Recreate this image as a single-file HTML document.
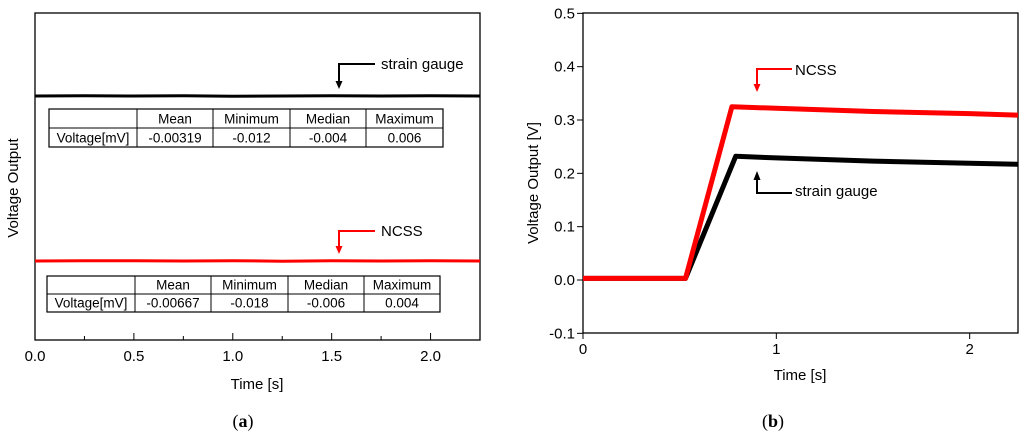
<!DOCTYPE html>
<html><head><meta charset="utf-8"><style>
body{margin:0;background:#fff;}
svg{display:block;font-family:"Liberation Sans",Arial,sans-serif;}
</style></head><body>
<svg id="fig" width="1024" height="437" viewBox="0 0 1024 437">
<g id="pa"></g>
<g id="pb"></g>
</svg>
<script>
// Panel (a) data
const aTicks = [0.0, 0.5, 1.0, 1.5, 2.0];
const aTickLabels = ["0.0", "0.5", "1.0", "1.5", "2.0"];
const aTimes = [0, 0.25, 0.5, 0.75, 1.0, 1.25, 1.5, 1.75, 2.0, 2.25];
const aStrain = [0.50, 0.501, 0.50, 0.5005, 0.4995, 0.50, 0.501, 0.50, 0.5005, 0.50];
const aNcss = [0.0, 0.001, 0.0005, 0.0, 0.001, -0.0005, 0.001, 0.0, 0.0005, 0.0];
const tableHeaders = ["", "Mean", "Minimum", "Median", "Maximum"];
const tableStrain = ["Voltage[mV]", "-0.00319", "-0.012", "-0.004", "0.006"];
const tableNcss = ["Voltage[mV]", "-0.00667", "-0.018", "-0.006", "0.004"];
// Panel (b) data
const bXTicks = [0, 1, 2];
const bYTicks = [-0.1, 0.0, 0.1, 0.2, 0.3, 0.4, 0.5];
const bYTickLabels = ["-0.1", "0.0", "0.1", "0.2", "0.3", "0.4", "0.5"];
const bTimes = [0, 0.53, 0.77, 1.0, 1.5, 2.0, 2.25];
const bNcss = [0.003, 0.003, 0.325, 0.322, 0.316, 0.312, 0.309];
const bStrainTimes = [0, 0.53, 0.79, 1.0, 1.5, 2.0, 2.25];
const bStrain = [0.003, 0.003, 0.232, 0.229, 0.223, 0.219, 0.217];

const NS = "http://www.w3.org/2000/svg";
function mk(parent, tag, attrs, text){
  const e = document.createElementNS(NS, tag);
  for (const k in attrs) e.setAttribute(k, attrs[k]);
  if (text !== undefined) e.textContent = text;
  parent.appendChild(e);
  return e;
}
const pa = document.getElementById('pa');
const pb = document.getElementById('pb');

// ---------- Panel a ----------
const ax = t => 35 + t * (445 / 2.25);
const ay = v => 261 - v * 330; // strain 0.5 -> 96
let e;
e = mk(pa, 'rect', {x:35, y:13, width:445, height:327, fill:'none', stroke:'#000', 'stroke-width':1.3});


for (let i = 0; i < 9; i++) {
  const t = i * 0.25;
  const major = i % 2 === 0;
  e = mk(pa, 'line', {x1:ax(t), x2:ax(t), y1:340, y2:major ? 333 : 336, stroke:'#000', 'stroke-width':1});
  
  
}
aTicks.forEach((t, i) => {
  e = mk(pa, 'text', {x:ax(t), y:361, 'font-size':15, 'text-anchor':'middle'}, aTickLabels[i]);
  
  
});
e = mk(pa, 'text', {x:257, y:389, 'font-size':15, 'text-anchor':'middle'}, 'Time [s]');


e = mk(pa, 'text', {x:0, y:0, 'font-size':15, 'text-anchor':'middle', transform:'translate(18,188) rotate(-90)'}, 'Voltage Output');


e = mk(pa, 'text', {x:243, y:427, 'font-size':18, 'text-anchor':'middle', 'font-family':'Liberation Serif, serif'});
e.innerHTML = '(<tspan font-weight="bold">a</tspan>)';



function linePath(xs, ys, fx, fy){ return xs.map((t,i)=>(i?'L':'M')+fx(t).toFixed(1)+' '+fy(ys[i]).toFixed(1)).join(' '); }
e = mk(pa, 'path', {d:linePath(aTimes, aStrain, ax, ay), fill:'none', stroke:'#000', 'stroke-width':3});


e = mk(pa, 'path', {d:linePath(aTimes, aNcss, ax, ay), fill:'none', stroke:'#f00', 'stroke-width':3});



function arrowDown(g, x, yTop, yBot, xEnd, col, label, lx, ly, name){
  e = mk(g, 'path', {d:`M${xEnd} ${yTop} H${x} V${yBot-6}`, fill:'none', stroke:col, 'stroke-width':2});
  
  
  mk(g, 'path', {d:`M${x-3.5} ${yBot-8} L${x+3.5} ${yBot-8} L${x} ${yBot} Z`, fill:col});
  e = mk(g, 'text', {x:lx, y:ly, 'font-size':15}, label);
  
  
}
arrowDown(pa, 339, 64, 89, 375, '#000', 'strain gauge', 381, 69, 'strain-gauge-annotation-a');
arrowDown(pa, 339, 231, 254, 375, '#f00', 'NCSS', 381, 236, 'ncss-annotation-a');

function table(g, x0, y0, cols, h, rows, name){
  const W = cols[cols.length-1] - x0;
  e = mk(g, 'rect', {x:x0, y:y0, width:W, height:h*2, fill:'#fff', stroke:'#000', 'stroke-width':1.2});
  
  
  mk(g, 'line', {x1:x0, x2:x0+W, y1:y0+h, y2:y0+h, stroke:'#000', 'stroke-width':1});
  const xs = [x0].concat(cols);
  for (let i = 1; i < xs.length-1; i++) mk(g, 'line', {x1:xs[i], x2:xs[i], y1:y0, y2:y0+2*h, stroke:'#000', 'stroke-width':1});
  rows.forEach((r, ri) => r.forEach((c, ci) => {
    e = mk(g, 'text', {x:(xs[ci]+xs[ci+1])/2, y:y0 + h*ri + h - 4.5, 'font-size':13.5, 'text-anchor':'middle'}, c);
    
    
  }));
}
table(pa, 49, 109, [137, 213, 290, 366, 443], 19, [tableHeaders, tableStrain], 'strain-gauge-stats-table');
table(pa, 47, 276, [135, 211, 288, 364, 440], 18, [tableHeaders, tableNcss], 'ncss-stats-table');

// ---------- Panel b ----------
const bx = t => 583 + t * (435 / 2.25);
const by = v => 280 - v * 533.3;
e = mk(pb, 'rect', {x:583, y:13, width:435, height:320, fill:'none', stroke:'#000', 'stroke-width':1.3});


bXTicks.forEach(t => {
  e = mk(pb, 'line', {x1:bx(t), x2:bx(t), y1:333, y2:339, stroke:'#000', 'stroke-width':1});
  
  
  e = mk(pb, 'text', {x:bx(t), y:354, 'font-size':15, 'text-anchor':'middle'}, String(t));
  
  
});
bYTicks.forEach((v, i) => {
  e = mk(pb, 'line', {x1:577, x2:583, y1:by(v), y2:by(v), stroke:'#000', 'stroke-width':1});
  
  
  e = mk(pb, 'text', {x:575, y:by(v)+5, 'font-size':15, 'text-anchor':'end'}, bYTickLabels[i]);
  
  
});
e = mk(pb, 'text', {x:800, y:380, 'font-size':15, 'text-anchor':'middle'}, 'Time [s]');


e = mk(pb, 'text', {x:0, y:0, 'font-size':15, 'text-anchor':'middle', transform:'translate(538,183) rotate(-90)'}, 'Voltage Output [V]');


e = mk(pb, 'text', {x:773, y:427, 'font-size':18, 'text-anchor':'middle', 'font-family':'Liberation Serif, serif'});
e.innerHTML = '(<tspan font-weight="bold">b</tspan>)';



e = mk(pb, 'path', {d:linePath(bStrainTimes, bStrain, bx, by), fill:'none', stroke:'#000', 'stroke-width':5, 'stroke-linejoin':'round'});


e = mk(pb, 'path', {d:linePath(bTimes, bNcss, bx, by), fill:'none', stroke:'#f00', 'stroke-width':5, 'stroke-linejoin':'round'});



arrowDown(pb, 757, 69, 92, 792, '#f00', 'NCSS', 795, 75, 'ncss-annotation-b');
e = mk(pb, 'path', {d:`M792 193 H757 V178`, fill:'none', stroke:'#000', 'stroke-width':2});


mk(pb, 'path', {d:'M753.5 180 L760.5 180 L757 171 Z', fill:'#000'});
e = mk(pb, 'text', {x:795, y:196, 'font-size':15}, 'strain gauge');


</script>
</body></html>
